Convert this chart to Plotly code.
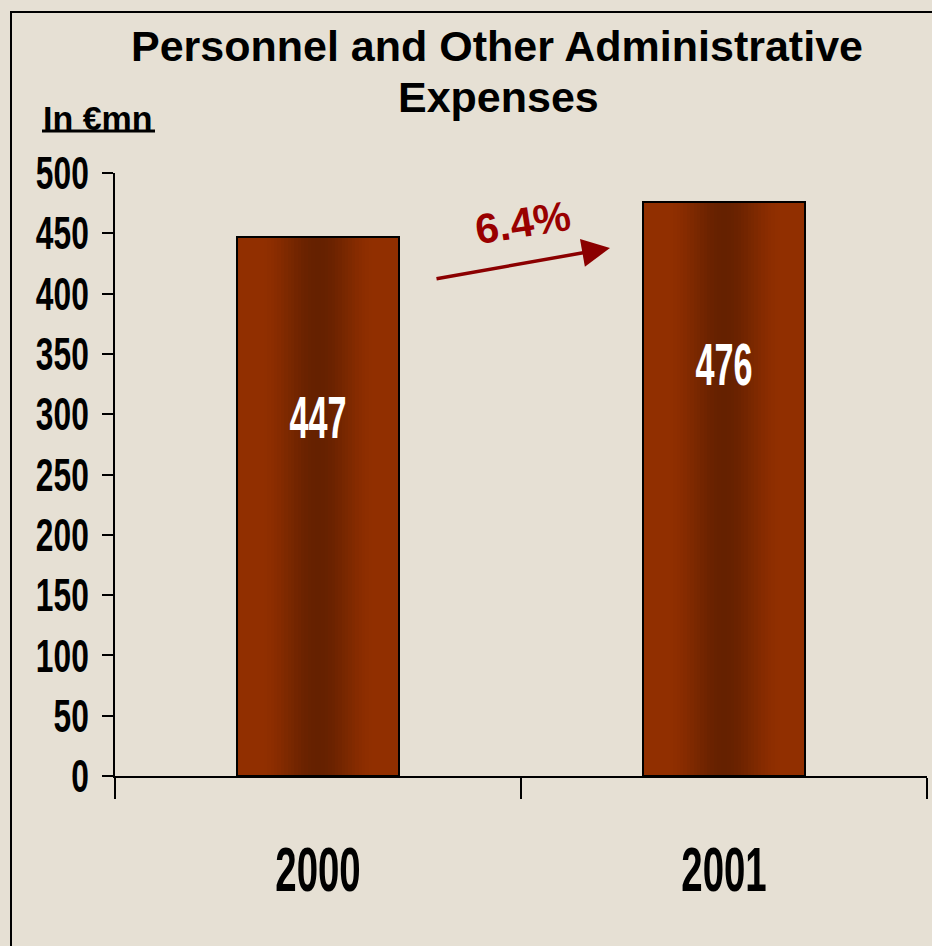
import plotly.graph_objects as go

# Chart data
years = ["2000", "2001"]
expenses = [447, 476]          # EUR millions
growth_label = "6.4%"
y_ticks = [0, 50, 100, 150, 200, 250, 300, 350, 400, 450, 500]

# Layout geometry (pixels)
W, H = 932, 946
PL, PR, PT, PB = 115, 927, 173, 776
BG = "#E6E0D4"
BAR_W = 0.40
EDGE = (145, 47, 0)
CENTER = (101, 33, 0)
SANS = "Liberation Sans, Arial, sans-serif"


def px(x):
    return (x - PL) / (PR - PL)


def py(y):
    return (PB - y) / (PB - PT)


def shade(u):
    t = min(abs(u - 0.5) * 2 / 0.72, 1.0)
    s = t * t * (3 - 2 * t)
    c = [round(CENTER[k] + (EDGE[k] - CENTER[k]) * s) for k in range(3)]
    return "rgb({},{},{})".format(*c)


fig = go.Figure()

# Horizontal gradient inside each bar, built from stacked strips
N = 48
d = BAR_W / N
for i in range(N):
    left = -BAR_W / 2 + i * d
    fig.add_trace(go.Bar(
        x=years, y=expenses,
        width=BAR_W / 2 - left, offset=left,
        marker=dict(color=shade((i + 0.5) / N), line=dict(width=0)),
        hoverinfo="skip", showlegend=False,
    ))

# Bar outlines
fig.add_trace(go.Bar(
    x=years, y=expenses, width=BAR_W, offset=-BAR_W / 2,
    marker=dict(color="rgba(0,0,0,0)", line=dict(color="black", width=2)),
    showlegend=False,
))

# Value labels inside bars (x given as category index)
label_y = [297, 341]
for i, (v, ly) in enumerate(zip(expenses, label_y)):
    fig.add_annotation(x=i, y=ly, text=str(v), showarrow=False,
                       font=dict(family=SANS, size=60, color="white", weight="bold"),
                       xanchor="center", yanchor="middle")

annotations_paper = [
    dict(x=px(497), y=py(46), text="Personnel and Other Administrative",
         font=dict(family=SANS, size=43, color="black", weight="bold")),
    dict(x=px(498), y=py(97), text="Expenses",
         font=dict(family=SANS, size=43, color="black", weight="bold")),
    dict(x=px(98), y=py(118), text="In €mn",
         font=dict(family=SANS, size=34, color="black", weight="bold")),
    dict(x=px(523), y=py(223), text=growth_label, textangle=-9,
         font=dict(family=SANS, size=42, color="#990000", weight="bold")),
]
for a in annotations_paper:
    fig.add_annotation(xref="paper", yref="paper", showarrow=False,
                       xanchor="center", yanchor="middle", **a)

# Growth arrow
fig.add_annotation(xref="paper", yref="paper", x=px(610), y=py(248),
                   ax=-175, ay=31, text="", showarrow=True,
                   arrowhead=2, arrowsize=1.6, arrowwidth=3.5,
                   arrowcolor="#8B0000", standoff=0)

shapes = [
    # underline of the unit label
    dict(type="line", xref="paper", yref="paper",
         x0=px(42), x1=px(155), y0=py(131), y1=py(131),
         line=dict(color="black", width=3)),
    # frame
    dict(type="line", xref="paper", yref="paper",
         x0=px(11), x1=px(11), y0=py(12), y1=py(946),
         line=dict(color="black", width=2)),
    dict(type="line", xref="paper", yref="paper",
         x0=px(10), x1=px(932), y0=py(12), y1=py(12),
         line=dict(color="black", width=2)),
]

fig.update_layout(
    width=W, height=H,
    margin=dict(l=PL, r=W - PR, t=PT, b=H - PB),
    paper_bgcolor=BG, plot_bgcolor=BG,
    barmode="overlay", bargap=0,
    shapes=shapes,
    showlegend=False,
)

fig.update_xaxes(
    type="category", range=[-0.5, 1.5],
    showgrid=False, zeroline=False,
    showline=True, linecolor="black", linewidth=2,
    ticks="outside", tickson="boundaries", ticklen=21, tickwidth=2, tickcolor="black",
    tickfont=dict(family=SANS, size=63, color="black", weight="bold"),
    ticklabelstandoff=37,
)
fig.update_yaxes(
    range=[0, 500], tickvals=y_ticks,
    showgrid=False, zeroline=False,
    showline=True, linecolor="black", linewidth=2,
    ticks="outside", ticklen=11, tickwidth=2, tickcolor="black",
    tickfont=dict(family=SANS, size=46, color="black", weight="bold"),
    ticklabelstandoff=4,
)

# Narrow (condensed) look for the numeric labels: squeeze text horizontally
# around its anchor point once the figure has been drawn.
condense_js = """
var gd = document.getElementById('{plot_id}');
function squeeze(nodes, sx) {
  nodes.forEach(function (t) {
    var x = parseFloat(t.getAttribute('x')) || 0;
    var tr = t.getAttribute('transform') || '';
    t.setAttribute('transform', tr + ' translate(' + x + ',0) scale(' + sx + ',1) translate(' + (-x) + ',0)');
  });
}
squeeze(gd.querySelectorAll('.ytick text'), 0.69);
squeeze(gd.querySelectorAll('.xtick text'), 0.61);
var vals = [];
gd.querySelectorAll('.annotation text').forEach(function (t) {
  if (/^\\d+$/.test(t.textContent.trim())) vals.push(t);
});
squeeze(vals, 0.57);
"""

fig.write_html("out.html", post_script=condense_js)
